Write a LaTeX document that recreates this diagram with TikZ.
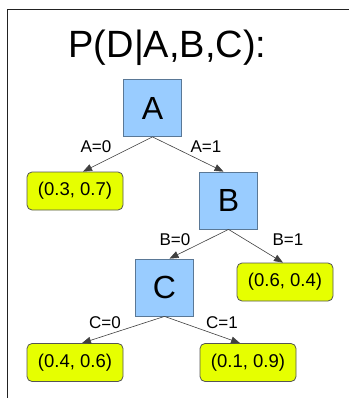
\documentclass[tikz,border=0pt]{standalone}
\usepackage{fontspec}
\setmainfont{Liberation Sans}
\usetikzlibrary{arrows.meta}
\definecolor{boxblue}{HTML}{99CCFF}
\definecolor{boxedge}{HTML}{5A7896}
\definecolor{leafy}{HTML}{E6FF00}
\definecolor{leafedge}{HTML}{555555}
\definecolor{framec}{HTML}{222222}
\tikzset{
  varbox/.style={draw=boxedge, fill=boxblue, line width=0.8pt, minimum width=58pt, minimum height=57pt, inner sep=0pt, font=\fontsize{32}{32}\selectfont},
  leafbox/.style={draw=leafedge, fill=leafy, line width=0.8pt, rounded corners=5pt, minimum width=96pt, minimum height=38pt, inner sep=0pt, font=\fontsize{18.5}{18.5}\selectfont},
  edgelbl/.style={anchor=base, font=\fontsize{17}{17}\selectfont, inner sep=0pt},
  conn/.style={draw=black!75, line width=0.6pt, -{Triangle[length=9pt,width=7pt]}},
}
\begin{document}
\begin{tikzpicture}[x=1pt,y=-1pt]
\useasboundingbox (0,0) rectangle (349,398);
\fill[white] (0,0) rectangle (349,398);
\draw[framec, line width=1.5pt] (7.5,398) -- (7.5,9.5) -- (349,9.5);
\node[anchor=base, inner sep=0pt, font=\fontsize{38}{38}\selectfont] (title) at (167.5,58) {P(D|A,B,C):};
\node[varbox] (A) at (152.5,108) {A};
\node[varbox] (B) at (228.5,200.5) {B};
\node[varbox] (C) at (164.5,287.5) {C};
\node[leafbox] (L1) at (75,191) {(0.3, 0.7)};
\node[leafbox] (L2) at (285,282) {(0.6, 0.4)};
\node[leafbox] (L3) at (75,362.5) {(0.4, 0.6)};
\node[leafbox] (L4) at (248,362.5) {(0.1, 0.9)};
\draw[conn] (A.south) -- ([xshift=8pt]L1.north);
\draw[conn] (A.south) -- ([xshift=-5pt]B.north);
\draw[conn] (B.south) -- ([xshift=5pt]C.north);
\draw[conn] (B.south) -- ([xshift=-2pt]L2.north);
\draw[conn] (C.south) -- ([xshift=7pt]L3.north);
\draw[conn] (C.south) -- ([xshift=-8pt]L4.north);
\node[edgelbl] (la0) at (96,152) {A=0};
\node[edgelbl] (la1) at (206,152) {A=1};
\node[edgelbl] (lb0) at (175,245) {B=0};
\node[edgelbl] (lb1) at (288,245) {B=1};
\node[edgelbl] (lc0) at (105,328) {C=0};
\node[edgelbl] (lc1) at (222,328) {C=1};
\end{tikzpicture}
\end{document}
